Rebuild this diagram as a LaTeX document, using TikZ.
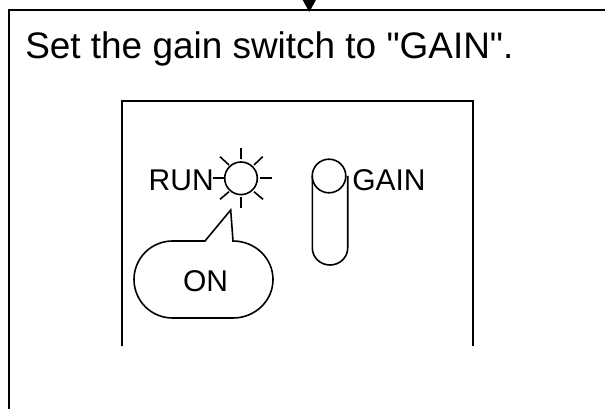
\documentclass[tikz,border=0pt]{standalone}
\usepackage{fontspec}
\setmainfont[Ligatures=TeXOff]{Liberation Sans}
\tikzset{
  ln/.style={draw=black,line width=1.5pt},
  thin ln/.style={draw=black,line width=1.2pt},
  lab/.style={inner sep=0pt,font=\fontsize{22.5pt}{26pt}\selectfont,text=black},
  title lab/.style={inner sep=0pt,font=\fontsize{27.7pt}{32pt}\selectfont,text=black},
}
\begin{document}
\begin{tikzpicture}[x=0.75pt,y=-0.75pt]
\useasboundingbox (0,0) rectangle (605,409);
\fill[white] (0,0) rectangle (605,409);
\coordinate (oTL) at (8.5,10);
\coordinate (oTR) at (605,10);
\draw[ln] (8.5,409) -- (oTL) -- (oTR);
\fill[black] (302.7,0) -- (315.9,0) -- (309.3,12) -- cycle;
\draw[ln] (121.7,346) -- (121.7,101) -- (472.7,101) -- (472.7,346);
\node[title lab,anchor=base west] (title) at (25,58.3) {Set the gain switch to "GAIN".};
\node[lab,anchor=base east] (run) at (214,190.7) {RUN};
\node[lab,anchor=base west] (gain) at (352,191) {GAIN};
\node[lab,anchor=base] (on) at (205.5,291.5) {ON};
\draw[thin ln] (241,178.3) circle (16.3);
\draw[thin ln] (241,148.3) -- (241,159.3);
\draw[thin ln] (241,197.3) -- (241,208.3);
\draw[thin ln] (213,178.3) -- (224.3,178.3);
\draw[thin ln] (260,178.3) -- (271.7,178.3);
\draw[thin ln] (220,156.7) -- (229,165);
\draw[thin ln] (262.7,156.7) -- (254,165);
\draw[thin ln] (220,199.3) -- (229,191.7);
\draw[thin ln] (263,199.3) -- (254,191.7);
\draw[thin ln] (205,241) -- (230.7,210) -- (233,241)
  arc[start angle=90,end angle=-90,x radius=40,y radius=-38.5]
  -- (172.5,318)
  arc[start angle=270,end angle=90,x radius=38.5,y radius=-38.5] -- cycle;
\draw[thin ln] (329,176) circle (16.8);
\draw[thin ln] (312.3,176) -- (312.3,248) arc[start angle=180,end angle=360,x radius=17.7,y radius=-17] -- (347.7,176);
\end{tikzpicture}
\end{document}
